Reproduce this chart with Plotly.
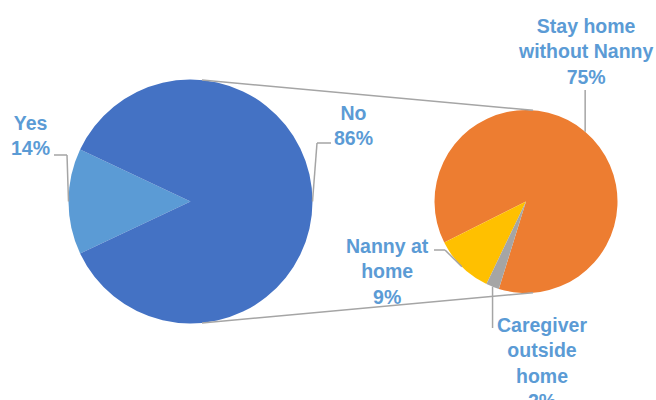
import math
import plotly.graph_objects as go

# Main pie: did the household use outside childcare?
main_labels = ["Yes", "No"]
main_values = [14, 86]
main_colors = ["#5B9BD5", "#4472C4"]

# Breakdown of the "No" share (percent of all respondents)
sub_labels = ["Stay home without Nanny", "Nanny at home", "Caregiver outside home"]
sub_values = [75, 9, 2]
sub_colors = ["#ED7D31", "#FFC000", "#A5A5A5"]

# Line-broken label text as displayed next to each slice
main_label_text = ["Yes", "No"]
sub_label_text = ["Stay home<br>without Nanny", "Nanny at<br>home", "Caregiver<br>outside<br>home"]

W, H = 656, 400
TEXT_COLOR = "#5B9BD5"
LINE_COLOR = "#A5A5A5"

# Pie geometry in pixels (centre x, centre y, radius)
L_CX, L_CY, L_R = 190.5, 201.5, 122.0
R_CX, R_CY, R_R = 526.0, 201.5, 91.5
MAIN_ROT = 270 - main_values[0] / sum(main_values) * 360 / 2
SUB_ROT = 243.3


def px(x):
    return x / W


def py(y):
    return 1 - y / H


def on_circle(cx, cy, r, clock_deg):
    a = math.radians(clock_deg)
    return cx + r * math.sin(a), cy - r * math.cos(a)


def mid_angles_clockwise(values, rotation):
    total = sum(values)
    out, start = [], rotation
    for v in values:
        span = v / total * 360
        out.append(start + span / 2)
        start += span
    return out


def mid_angles_ccw(values, rotation):
    # first slice ends at `rotation`, later slices continue counterclockwise
    total = sum(values)
    spans = [v / total * 360 for v in values]
    out = [rotation + spans[0] / 2]
    start = rotation
    for s in spans[1:]:
        out.append(start - s / 2)
        start -= s
    return out


fig = go.Figure()
fig.add_trace(go.Pie(
    labels=main_labels, values=main_values, sort=False, direction="clockwise",
    rotation=MAIN_ROT, textinfo="none", hoverinfo="label+percent",
    marker=dict(colors=main_colors, line=dict(width=0)),
    domain=dict(x=[px(L_CX - L_R), px(L_CX + L_R)], y=[py(L_CY + L_R), py(L_CY - L_R)]),
    showlegend=False,
))
fig.add_trace(go.Pie(
    labels=sub_labels, values=sub_values, sort=False, direction="counterclockwise",
    rotation=SUB_ROT, textinfo="none", hoverinfo="label+value",
    marker=dict(colors=sub_colors, line=dict(width=0)),
    domain=dict(x=[px(R_CX - R_R), px(R_CX + R_R)], y=[py(R_CY + R_R), py(R_CY - R_R)]),
    showlegend=False,
))

shapes = []


def seg(p0, p1, width=1.5):
    shapes.append(dict(type="line", xref="paper", yref="paper",
                       x0=px(p0[0]), y0=py(p0[1]), x1=px(p1[0]), y1=py(p1[1]),
                       line=dict(color=LINE_COLOR, width=width)))


# Connector lines between the two pies
seg(on_circle(L_CX, L_CY, L_R, 5.4), on_circle(R_CX, R_CY, R_R, 4.4))
seg(on_circle(L_CX, L_CY, L_R, 174.6), on_circle(R_CX, R_CY, R_R, 175.6))

# Leader lines from slice midpoints to their labels
main_mids = mid_angles_clockwise(main_values, MAIN_ROT)
sub_mids = mid_angles_ccw(sub_values, SUB_ROT)

yes_pt = on_circle(L_CX, L_CY, L_R, main_mids[0])
seg(yes_pt, (67, 155)); seg((67, 155), (54, 155))
no_pt = on_circle(L_CX, L_CY, L_R, main_mids[1])
seg(no_pt, (317, 143)); seg((317, 143), (331, 143))

stay_pt = on_circle(R_CX, R_CY, R_R, sub_mids[0])
seg(stay_pt, (stay_pt[0], 90))
nanny_pt = on_circle(R_CX, R_CY, R_R, sub_mids[1])
seg(nanny_pt, (445, 250)); seg((445, 250), (434, 250))
care_pt = on_circle(R_CX, R_CY, R_R, sub_mids[2])
seg(care_pt, (care_pt[0], 328))

# Data labels: name and share
label_pos = [
    (main_label_text[0], main_values[0], 30, 135.5),
    (main_label_text[1], main_values[1], 353, 125),
    (sub_label_text[0], sub_values[0], 585, 51.5),
    (sub_label_text[1], sub_values[1], 387, 271),
    (sub_label_text[2], sub_values[2], 542, 362.5),
]
annotations = []
for text, val, x, y in label_pos:
    annotations.append(dict(
        text=f"<b>{text}<br>{val}%</b>", x=px(x), y=py(y), xref="paper", yref="paper",
        xanchor="center", yanchor="middle", showarrow=False, align="center",
        font=dict(family="Liberation Sans, Arial, sans-serif", size=19.5, color=TEXT_COLOR),
    ))

fig.update_layout(
    width=W, height=H, margin=dict(l=0, r=0, t=0, b=0),
    paper_bgcolor="white", plot_bgcolor="white",
    shapes=shapes, annotations=annotations,
)

fig.write_html("out.html")
